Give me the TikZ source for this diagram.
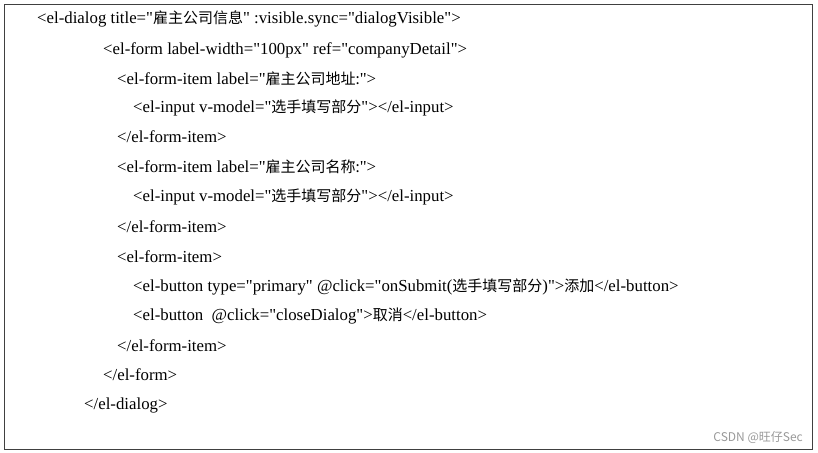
\documentclass[tikz,border=0pt]{standalone}
\usepackage{fontspec}
\setmainfont{Liberation Serif}[Ligatures=TeXOff]
\newfontfamily\zhfont{Noto Sans CJK SC}
\newcommand{\zh}[1]{{\zhfont\fontsize{15pt}{16pt}\selectfont #1}}
\begin{document}
\begin{tikzpicture}[x=1pt,y=-1pt,
  codeline/.style={anchor=west,inner sep=0pt,font=\fontsize{16.8pt}{18pt}\selectfont},
  frame/.style={draw=black!75,line width=0.8pt}]
\useasboundingbox (0,0) rectangle (818,452);
\draw[frame] (4,4) rectangle (812,449);
\node[codeline] (l1) at (37,19) {<el-dialog title="\zh{雇主公司信息}" :visible.sync="dialogVisible">};
\node[codeline] (l2) at (103,50) {<el-form label-width="100px" ref="companyDetail">};
\node[codeline] (l3) at (117,79) {<el-form-item label="\zh{雇主公司地址:}">};
\node[codeline] (l4) at (133,108) {<el-input v-model="\zh{选手填写部分}"></el-input>};
\node[codeline] (l5) at (117,137) {</el-form-item>};
\node[codeline] (l6) at (117,167) {<el-form-item label="\zh{雇主公司名称:}">};
\node[codeline] (l7) at (133,197) {<el-input v-model="\zh{选手填写部分}"></el-input>};
\node[codeline] (l8) at (117,227) {</el-form-item>};
\node[codeline] (l9) at (117,257) {<el-form-item>};
\node[codeline] (l10) at (133,287) {<el-button type="primary" @click="onSubmit(\zh{选手填写部分})">\zh{添加}</el-button>};
\node[codeline] (l11) at (133,316) {<el-button\ \ @click="closeDialog">\zh{取消}</el-button>};
\node[codeline] (l12) at (117,346) {</el-form-item>};
\node[codeline] (l13) at (103,375) {</el-form>};
\node[codeline] (l14) at (84,405) {</el-dialog>};
\node[anchor=east,inner sep=0pt,text=black!40,font=\fontsize{12pt}{14pt}\zhfont] (wm) at (803,437) {CSDN @旺仔Sec};
\end{tikzpicture}
\end{document}
